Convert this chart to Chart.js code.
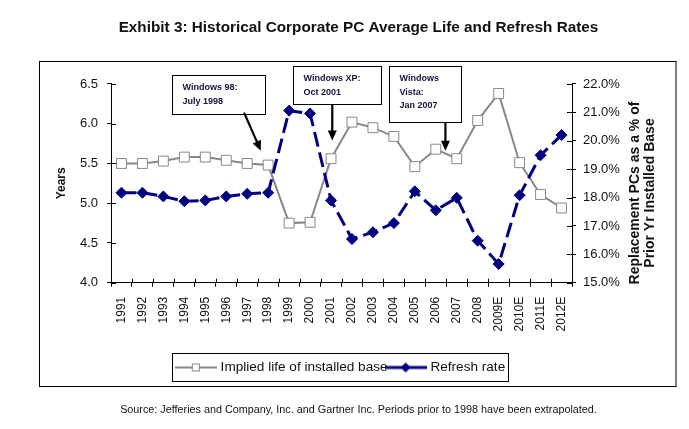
<!DOCTYPE html>
<html><head><meta charset="utf-8">
<script src="https://cdn.jsdelivr.net/npm/chart.js@4"></script>
<style>html,body{margin:0;padding:0;background:#fff;}canvas{display:block;}</style>
</head><body>
<canvas id="c" width="689" height="429"></canvas>
<script>
// ---- data ----
const years = ['1991','1992','1993','1994','1995','1996','1997','1998','1999','2000','2001','2002','2003','2004','2005','2006','2007','2008','2009E','2010E','2011E','2012E'];
const impliedLife = [5.50,5.50,5.53,5.58,5.58,5.54,5.50,5.48,4.75,4.76,5.56,6.02,5.95,5.84,5.46,5.68,5.56,6.04,6.38,5.51,5.11,4.94];
const refreshRate = [18.17,18.17,18.04,17.87,17.90,18.04,18.13,18.17,21.06,20.96,17.90,16.54,16.78,17.10,18.22,17.55,17.99,16.48,15.66,18.08,19.49,20.20];
const leftTicks = [4.0,4.5,5.0,5.5,6.0,6.5];
const rightTicks = [15,16,17,18,19,20,21,22];
const seriesNames = ['Implied life of installed base','Refresh rate'];
const titleText = 'Exhibit 3: Historical Corporate PC Average Life and Refresh Rates';
const sourceText = 'Source: Jefferies and Company, Inc. and Gartner Inc. Periods prior to 1998 have been extrapolated.';
const leftAxisTitle = 'Years';
const rightAxisTitle = ['Replacement PCs as a % of','Prior Yr Installed Base'];
// annotation boxes: [x index from, y value top, x index to, y value bottom]; arrows: [x0,y0,x1,y1]
const annotations = [
  {lines:['Windows 98:','July 1998'], box:[2.43,6.61,6.85,6.12], arrow:[5.85,6.14,6.65,5.66]},
  {lines:['Windows XP:','Oct 2001'], box:[8.17,6.73,12.37,6.245], arrow:[10.06,6.245,10.06,5.79]},
  {lines:['Windows','Vista:','Jan 2007'], box:[12.75,6.73,16.22,6.02], arrow:[15.46,6.02,15.46,5.66]}
];

const FONT = "'Liberation Sans', Arial, sans-serif";
Chart.defaults.font.family = FONT;
Chart.defaults.color = '#111';

const GRAY = '#878787', NAVY = '#000080';

function legendIcon(kind){
  const c = document.createElement('canvas');
  c.width = 42; c.height = 14;
  const g = c.getContext('2d');
  if (kind === 0){
    g.strokeStyle = GRAY; g.lineWidth = 2;
    g.beginPath(); g.moveTo(0,7); g.lineTo(42,7); g.stroke();
    g.fillStyle = '#fff'; g.fillRect(17,3,8,8);
    g.lineWidth = 1; g.strokeRect(17.5,3.5,7,7);
  } else {
    g.strokeStyle = NAVY; g.lineWidth = 3;
    g.beginPath(); g.moveTo(0,7); g.lineTo(42,7); g.stroke();
    g.fillStyle = NAVY;
    g.beginPath(); g.moveTo(16,7); g.lineTo(21,2); g.lineTo(26,7); g.lineTo(21,12); g.closePath(); g.fill();
  }
  return c;
}
const icons = [legendIcon(0), legendIcon(1)];

const framePlugin = {
  id:'frame',
  beforeDraw(chart){
    const c = chart.ctx;
    c.save();
    c.fillStyle = '#fff'; c.fillRect(0,0,chart.width,chart.height);
    c.strokeStyle = '#000'; c.lineWidth = 1;
    c.strokeRect(39.5, 61.5, 636.5, 325);
    c.restore();
  }
};

const innerTicks = {
  id:'innerTicks',
  afterDraw(chart){
    const c = chart.ctx, ca = chart.chartArea;
    c.save(); c.strokeStyle = '#000'; c.lineWidth = 1;
    c.beginPath();
    const y = chart.scales.y, y2 = chart.scales.y2, x = chart.scales.x;
    y.ticks.forEach((t,i)=>{ const py = Math.round(y.getPixelForTick(i))+0.5; c.moveTo(ca.left, py); c.lineTo(ca.left+5, py); });
    y2.ticks.forEach((t,i)=>{ const py = Math.round(y2.getPixelForTick(i))+0.5; c.moveTo(ca.right-5, py); c.lineTo(ca.right, py); });
    const n = years.length;
    for (let i=0;i<=n;i++){ const px = Math.round(x.left + i*x.width/n)+0.5; c.moveTo(px, ca.bottom-4); c.lineTo(px, ca.bottom); }
    c.stroke();
    c.restore();
  }
};

const rightTitle = {
  id:'rightTitle',
  afterDraw(chart){
    const c = chart.ctx;
    c.save();
    c.fillStyle = '#111';
    c.font = 'bold 14px ' + FONT;
    c.textAlign = 'center'; c.textBaseline = 'middle';
    c.translate(643, 193);
    c.rotate(-Math.PI/2);
    c.fillText(rightAxisTitle[0], 0, -7.5);
    c.fillText(rightAxisTitle[1], 0, 7.5);
    c.restore();
  }
};

const legendBorder = {
  id:'legendBorder',
  afterDraw(chart){
    const hb = chart.legend.legendHitBoxes;
    if (!hb || !hb.length) return;
    const l = Math.min(...hb.map(h=>h.left)), r = Math.max(...hb.map(h=>h.left+h.width));
    const cy = hb[0].top + hb[0].height/2;
    const c = chart.ctx;
    c.save(); c.strokeStyle = '#000'; c.lineWidth = 1;
    c.strokeRect(Math.round(l-6)+0.5, Math.round(cy-14)+0.5, Math.round(r-l+9), 28);
    c.restore();
  }
};

const notes = {
  id:'notes',
  afterDraw(chart){
    const c = chart.ctx, xs = chart.scales.x, ys = chart.scales.y;
    c.save();
    annotations.forEach(a=>{
      const x0 = Math.round(xs.getPixelForValue(a.box[0]))+0.5, y0 = Math.round(ys.getPixelForValue(a.box[1]))+0.5;
      const x1 = Math.round(xs.getPixelForValue(a.box[2]))+0.5, y1 = Math.round(ys.getPixelForValue(a.box[3]))+0.5;
      c.fillStyle = '#fff'; c.fillRect(x0,y0,x1-x0,y1-y0);
      c.strokeStyle = '#000'; c.lineWidth = 1; c.strokeRect(x0,y0,x1-x0,y1-y0);
      c.fillStyle = '#14143a'; c.font = 'bold 9px ' + FONT; c.textAlign='left'; c.textBaseline='middle';
      a.lines.forEach((t,i)=> c.fillText(t, x0+10, y0+12.5+i*13.3));
      const ax0 = xs.getPixelForValue(a.arrow[0]), ay0 = ys.getPixelForValue(a.arrow[1]);
      const ax1 = xs.getPixelForValue(a.arrow[2]), ay1 = ys.getPixelForValue(a.arrow[3]);
      const ang = Math.atan2(ay1-ay0, ax1-ax0), hl = 10, hw = 4.5;
      c.strokeStyle = '#000'; c.lineWidth = 2.2;
      c.beginPath(); c.moveTo(ax0, ay0); c.lineTo(ax1 - Math.cos(ang)*hl*0.8, ay1 - Math.sin(ang)*hl*0.8); c.stroke();
      c.fillStyle = '#000'; c.beginPath();
      c.moveTo(ax1, ay1);
      c.lineTo(ax1 - Math.cos(ang)*hl - Math.sin(ang)*hw, ay1 - Math.sin(ang)*hl + Math.cos(ang)*hw);
      c.lineTo(ax1 - Math.cos(ang)*hl + Math.sin(ang)*hw, ay1 - Math.sin(ang)*hl - Math.cos(ang)*hw);
      c.closePath(); c.fill();
    });
    c.restore();
  }
};

const axisCommon = {
  grid:{drawOnChartArea:false, drawTicks:true, tickLength:4, color:'#000', lineWidth:1},
  border:{display:true, color:'#000', width:1}
};

new Chart(document.getElementById('c'), {
  type:'line',
  data:{
    labels: years,
    datasets:[
      {label:seriesNames[0], data:impliedLife, yAxisID:'y', order:1,
       borderColor:GRAY, borderWidth:2, tension:0,
       pointStyle:'rect', pointRadius:7, pointBackgroundColor:'#fff', pointBorderColor:GRAY, pointBorderWidth:1},
      {label:seriesNames[1], data:refreshRate, yAxisID:'y2', order:0,
       borderColor:NAVY, borderWidth:3, borderDash:[15,6], tension:0,
       pointStyle:'rectRot', pointRadius:5.5, pointBackgroundColor:NAVY, pointBorderColor:NAVY, pointBorderWidth:1}
    ]
  },
  options:{
    responsive:false, animation:false, devicePixelRatio:1, events:[],
    layout:{padding:{left:41, right:13, top:0, bottom:0}},
    plugins:{
      tooltip:{enabled:false},
      title:{display:true, text:titleText, color:'#111', font:{size:15.3, weight:'bold'}, padding:{top:19, bottom:46.6}},
      subtitle:{display:true, position:'bottom', text:sourceText, color:'#111', font:{size:10.8}, padding:{top:19.3, bottom:12.5}},
      legend:{
        position:'bottom', fullSize:false,
        labels:{
          usePointStyle:true, pointStyleWidth:36, padding:0, color:'#111', font:{size:13.6},
          generateLabels(chart){
            return chart.data.datasets.map((d,i)=>({text:d.label, pointStyle:icons[i], datasetIndex:i, fillStyle:'transparent', strokeStyle:'transparent', lineWidth:0, fontColor:'#111', hidden:false}));
          }
        }
      }
    },
    scales:{
      x:Object.assign({}, axisCommon, {
        offset:true,
        grid:Object.assign({}, axisCommon.grid, {offset:true}),
        ticks:{minRotation:90, maxRotation:90, autoSkip:false, padding:10, color:'#111', font:{size:12}},
        afterFit(s){ s.height = 77.9; }
      }),
      y:Object.assign({}, axisCommon, {
        position:'left', min:4, max:6.5,
        afterBuildTicks(s){ s.ticks = leftTicks.map(v=>({value:v})); },
        ticks:{padding:9, color:'#111', font:{size:13}, callback:v=>Number(v).toFixed(1)},
        title:{display:true, text:leftAxisTitle, color:'#111', font:{size:12, weight:'bold'}, padding:{top:13, bottom:0}},
        afterFit(s){ s.width = 70; }
      }),
      y2:Object.assign({}, axisCommon, {
        position:'right', min:15, max:22,
        afterBuildTicks(s){ s.ticks = rightTicks.map(v=>({value:v})); },
        ticks:{padding:7, color:'#111', font:{size:13}, callback:v=>Number(v).toFixed(1)+'%'},
        afterFit(s){ s.width = 104; }
      })
    }
  },
  plugins:[framePlugin, innerTicks, rightTitle, legendBorder, notes]
});
</script>
</body></html>
